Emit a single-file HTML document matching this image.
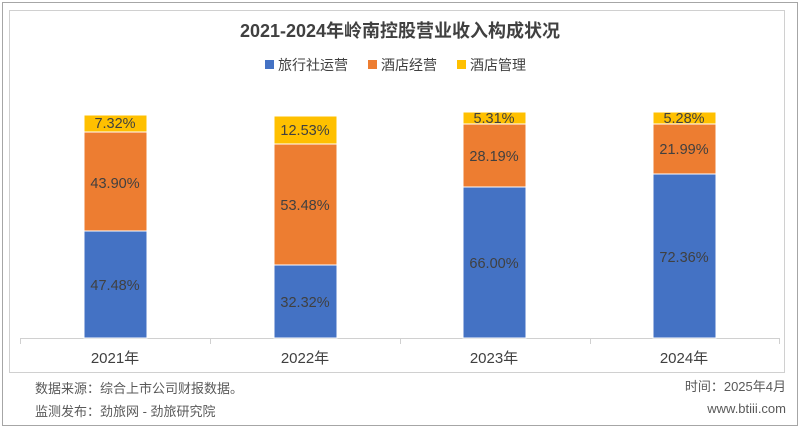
<!DOCTYPE html>
<html><head><meta charset="utf-8"><style>
body{margin:0;width:800px;height:430px;background:#fff;font-family:"Liberation Sans","Noto Sans CJK SC",sans-serif;overflow:hidden}
</style></head><body>
<svg width="800" height="430" xmlns="http://www.w3.org/2000/svg" font-family="Liberation Sans, Noto Sans CJK SC, sans-serif">
<rect x="2.5" y="2.5" width="795" height="423" fill="#fff" stroke="#a6a6a6"/>
<rect x="9.5" y="10.5" width="775" height="362" fill="#fff" stroke="#d0d0d0"/>
<text x="400" y="37" text-anchor="middle" font-size="18" font-weight="bold" fill="#404040">2021-2024年岭南控股营业收入构成状况</text>
<g font-size="14" fill="#404040">
<rect x="265" y="60" width="9" height="9" fill="#4472c4"/><text x="278" y="70">旅行社运营</text>
<rect x="368" y="60" width="9" height="9" fill="#ed7d31"/><text x="381" y="70">酒店经营</text>
<rect x="457" y="60" width="9" height="9" fill="#ffc000"/><text x="470" y="70">酒店管理</text>
</g>
<line x1="20" y1="338.5" x2="780" y2="338.5" stroke="#d0d0d0"/>
<g stroke="#d0d0d0"><line x1="20.5" y1="338" x2="20.5" y2="344"/><line x1="210.5" y1="338" x2="210.5" y2="344"/><line x1="400.5" y1="338" x2="400.5" y2="344"/><line x1="590.5" y1="338" x2="590.5" y2="344"/><line x1="779.5" y1="338" x2="779.5" y2="344"/></g>
<g stroke="#fff" stroke-width="1">
<rect x="84" y="231" width="63" height="107" fill="#4472c4"/>
<rect x="84" y="132" width="63" height="99" fill="#ed7d31"/>
<rect x="84" y="115" width="63" height="17" fill="#ffc000"/>
<rect x="274" y="265" width="63" height="73" fill="#4472c4"/>
<rect x="274" y="144" width="63" height="121" fill="#ed7d31"/>
<rect x="274" y="116" width="63" height="28" fill="#ffc000"/>
<rect x="463" y="187" width="63" height="151" fill="#4472c4"/>
<rect x="463" y="124" width="63" height="63" fill="#ed7d31"/>
<rect x="463" y="112" width="63" height="12" fill="#ffc000"/>
<rect x="653" y="174" width="63" height="164" fill="#4472c4"/>
<rect x="653" y="124" width="63" height="50" fill="#ed7d31"/>
<rect x="653" y="112" width="63" height="12" fill="#ffc000"/>
</g>
<g font-size="14.5" fill="#404040" text-anchor="middle">
<text x="115" y="290">47.48%</text><text x="115" y="188">43.90%</text><text x="115" y="128">7.32%</text>
<text x="305" y="307">32.32%</text><text x="305" y="210">53.48%</text><text x="305" y="135">12.53%</text>
<text x="494" y="268">66.00%</text><text x="494" y="161">28.19%</text><text x="494" y="123">5.31%</text>
<text x="684" y="262">72.36%</text><text x="684" y="154">21.99%</text><text x="684" y="123">5.28%</text>
</g>
<g font-size="15" fill="#404040" text-anchor="middle">
<text x="115" y="363">2021年</text><text x="305" y="363">2022年</text><text x="494" y="363">2023年</text><text x="684" y="363">2024年</text>
</g>
<g font-size="13" fill="#595959">
<text x="35" y="393">数据来源：综合上市公司财报数据。</text>
<text x="35" y="416">监测发布：劲旅网 - 劲旅研究院</text>
<text x="786" y="391" text-anchor="end">时间：2025年4月</text>
<text x="786" y="413" text-anchor="end">www.btiii.com</text>
</g>
</svg>
</body></html>
